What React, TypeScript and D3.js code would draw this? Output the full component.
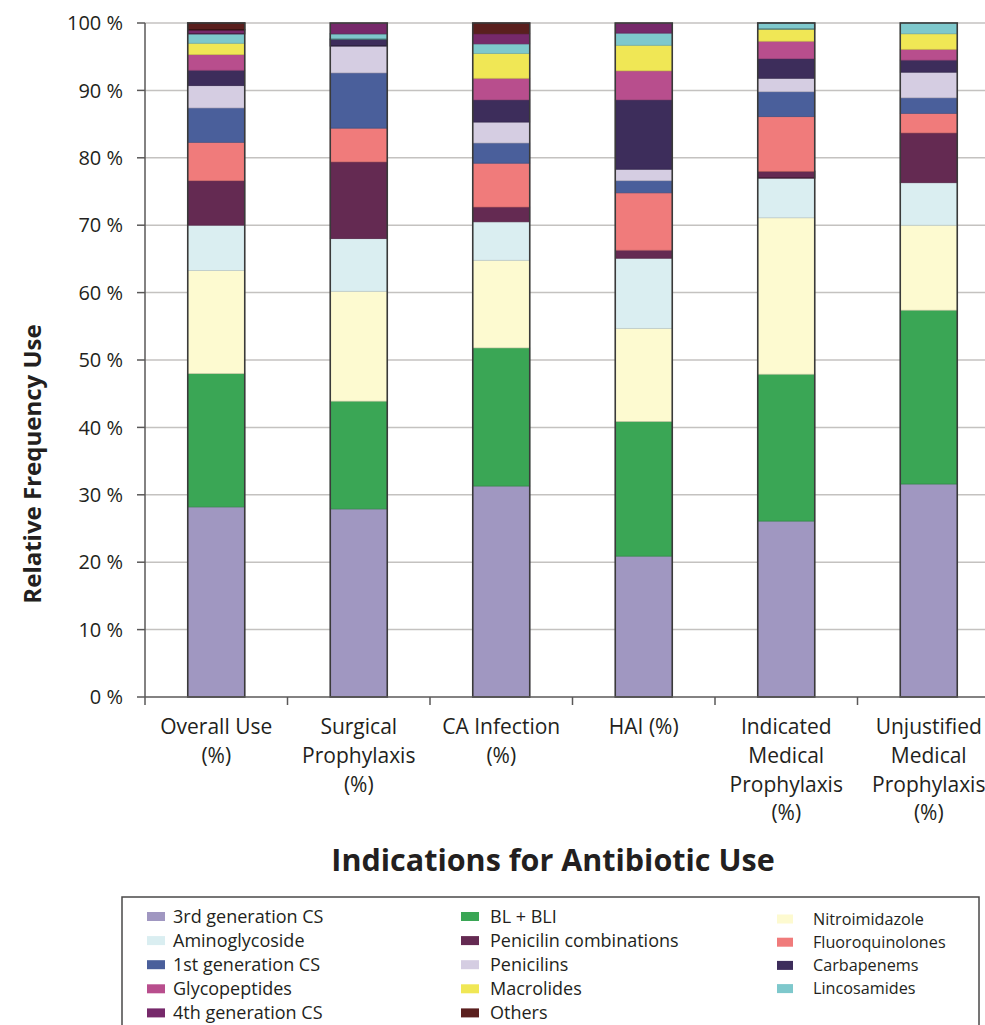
import React from 'react';
import * as d3 from 'd3';

// categories on the x axis, each label split into lines
const categories = ['Overall Use', 'Surgical Prophylaxis', 'CA Infection', 'HAI', 'Indicated Medical Prophylaxis', 'Unjustified Medical Prophylaxis'];
const categoryLines = [
  ['Overall Use', '(%)'],
  ['Surgical', 'Prophylaxis', '(%)'],
  ['CA Infection', '(%)'],
  ['HAI (%)'],
  ['Indicated', 'Medical', 'Prophylaxis', '(%)'],
  ['Unjustified', 'Medical', 'Prophylaxis', '(%)'],
];

// antibiotic classes, bottom of the stack first
const classes = [
  '3rd generation CS', 'BL + BLI', 'Nitroimidazole', 'Aminoglycoside', 'Penicilin combinations',
  'Fluoroquinolones', '1st generation CS', 'Penicilins', 'Carbapenems', 'Glycopeptides',
  'Macrolides', 'Lincosamides', '4th generation CS', 'Others',
];
const classColors = [
  '#a097c1', '#3aa655', '#fdfad0', '#daeef1', '#642a52',
  '#f07b7b', '#4a5f9b', '#d5cde2', '#3d2d5b', '#b84e8d',
  '#f0e755', '#7ec8cc', '#76296a', '#5a1f1e',
];

// percent share per class, one value per category
const thirdGenCS = [28.2, 27.9, 31.3, 20.9, 26.1, 31.6];
const blBli = [19.8, 16.0, 20.5, 20.0, 21.8, 25.8];
const nitroimidazole = [15.3, 16.3, 13.0, 13.8, 23.2, 12.6];
const aminoglycoside = [6.7, 7.8, 5.7, 10.4, 5.9, 6.3];
const penicilinComb = [6.6, 11.4, 2.2, 1.2, 1.0, 7.4];
const fluoroquinolones = [5.7, 5.0, 6.5, 8.5, 8.1, 2.9];
const firstGenCS = [5.1, 8.2, 3.0, 1.8, 3.7, 2.3];
const penicilins = [3.3, 4.0, 3.1, 1.7, 2.0, 3.8];
const carbapenems = [2.3, 1.0, 3.3, 10.3, 2.9, 1.8];
const glycopeptides = [2.3, 0, 3.2, 4.3, 2.6, 1.6];
const macrolides = [1.7, 0, 3.7, 3.8, 1.8, 2.3];
const lincosamides = [1.4, 0.8, 1.4, 1.8, 0.9, 1.6];
const fourthGenCS = [0.6, 1.5, 1.5, 1.4, 0, 0];
const others = [1.0, 0, 1.6, 0, 0, 0];

const series = [
  thirdGenCS, blBli, nitroimidazole, aminoglycoside, penicilinComb, fluoroquinolones,
  firstGenCS, penicilins, carbapenems, glycopeptides, macrolides, lincosamides, fourthGenCS, others,
];

const yTicks = [0, 10, 20, 30, 40, 50, 60, 70, 80, 90, 100];

// legend layout: three columns, items listed per column
const legendColumns = [
  ['3rd generation CS', 'Aminoglycoside', '1st generation CS', 'Glycopeptides', '4th generation CS'],
  ['BL + BLI', 'Penicilin combinations', 'Penicilins', 'Macrolides', 'Others'],
  ['Nitroimidazole', 'Fluoroquinolones', 'Carbapenems', 'Lincosamides'],
];

const W = 985;
const H = 1025;
const left = 145;
const right = 1000;
const top = 23;
const bottom = 697;
const font = '"Open Sans", "Noto Sans", sans-serif';
const ink = '#231f20';

export default function App() {
  const rows = categories.map((c, i) => {
    const r: any = { category: c };
    classes.forEach((k, j) => { r[k] = series[j][i]; });
    return r;
  });
  const stacked = d3.stack().keys(classes)(rows);

  const x = d3.scaleBand().domain(categories).range([left, right]).paddingInner(0.6).paddingOuter(0.3);
  const band = d3.scaleBand().domain(categories).range([left, right]);
  const y = d3.scaleLinear().domain([0, 100]).range([bottom, top]);
  const color = d3.scaleOrdinal<string, string>().domain(classes).range(classColors);

  const colX = [147, 461, 777];
  const colText = [173, 490, 813];

  return (
    <>
      <style>{'body{margin:0}'}</style>
      <svg width={W} height={H} style={{ display: 'block', background: '#fff' }}>
        {/* gridlines */}
        {yTicks.slice(1).map(t => (
          <line key={'g' + t} x1={left} x2={right} y1={y(t)} y2={y(t)} stroke="#c4c2c0" strokeWidth={1.5} />
        ))}

        {/* bars */}
        {stacked.map(s => (
          <g key={s.key} fill={color(s.key)}>
            {s.map((d, i) => {
              const h = y(d[0]) - y(d[1]);
              if (h <= 0) return null;
              // very thin slices read darker in the original because of their edges
              const edge = d3.color(color(s.key))!.darker(h < 8 ? 1.6 : 0.5).toString();
              return (
                <rect key={i} x={x(categories[i])} width={x.bandwidth()} y={y(d[1])} height={h}
                  stroke={edge} strokeWidth={h < 8 ? 1.2 : 0.7} />
              );
            })}
          </g>
        ))}
        {categories.map(c => (
          <rect key={'o' + c} x={x(c)} width={x.bandwidth()} y={y(100)} height={y(0) - y(100)}
            fill="none" stroke="#3a3a3a" strokeWidth={1.6} />
        ))}

        {/* axes */}
        <line x1={left} x2={left} y1={y(100)} y2={y(0)} stroke="#5a5858" strokeWidth={1.5} />
        <line x1={left} x2={right} y1={y(0)} y2={y(0)} stroke="#5a5858" strokeWidth={1.5} />
        {yTicks.map(t => (
          <g key={'t' + t}>
            <line x1={left - 8} x2={left} y1={y(t)} y2={y(t)} stroke="#5a5858" strokeWidth={1.5} />
            <text x={left - 22} y={y(t)} dy="0.36em" textAnchor="end" fontFamily={font} fontSize={20} fill={ink}>
              {t + ' %'}
            </text>
          </g>
        ))}
        {categories.map((c, i) => (
          <line key={'xt' + i} x1={band(c)} x2={band(c)} y1={y(0)} y2={y(0) + 8} stroke="#5a5858" strokeWidth={1.5} />
        ))}
        <line x1={right} x2={right} y1={y(0)} y2={y(0) + 8} stroke="#5a5858" strokeWidth={1.5} />

        {categories.map((c, i) => (
          <text key={'xl' + i} textAnchor="middle" fontFamily={font} fontSize={21} fill={ink}>
            {categoryLines[i].map((ln, k) => (
              <tspan key={k} x={band(c)! + band.bandwidth() / 2} y={734 + k * 28.8}>{ln}</tspan>
            ))}
          </text>
        ))}

        {/* axis titles */}
        <text transform="translate(41,464) rotate(-90)" textAnchor="middle"
          fontFamily={font} fontSize={24} fontWeight="bold" fill={ink}>Relative Frequency Use</text>
        <text x={553} y={871} textAnchor="middle" fontFamily={font} fontSize={30.5} fontWeight="bold" fill={ink}>
          Indications for Antibiotic Use
        </text>

        {/* legend */}
        <rect x={122} y={897} width={857} height={140} fill="#fff" stroke="#4a4848" strokeWidth={1.5} />
        {legendColumns.map((col, ci) => col.map((name, ri) => {
          const cy = ci === 2 ? 919 + ri * 23.2 : 916.5 + ri * 24.1;
          return (
            <g key={name}>
              <rect x={colX[ci]} y={cy - 4.5} width={ci === 2 ? 16 : 18} height={9} fill={color(name)} />
              <text x={colText[ci]} y={cy} dy="0.35em" fontFamily={font} fontSize={ci === 2 ? 16.2 : 18} fill={ink}>{name}</text>
            </g>
          );
        }))}
      </svg>
    </>
  );
}
